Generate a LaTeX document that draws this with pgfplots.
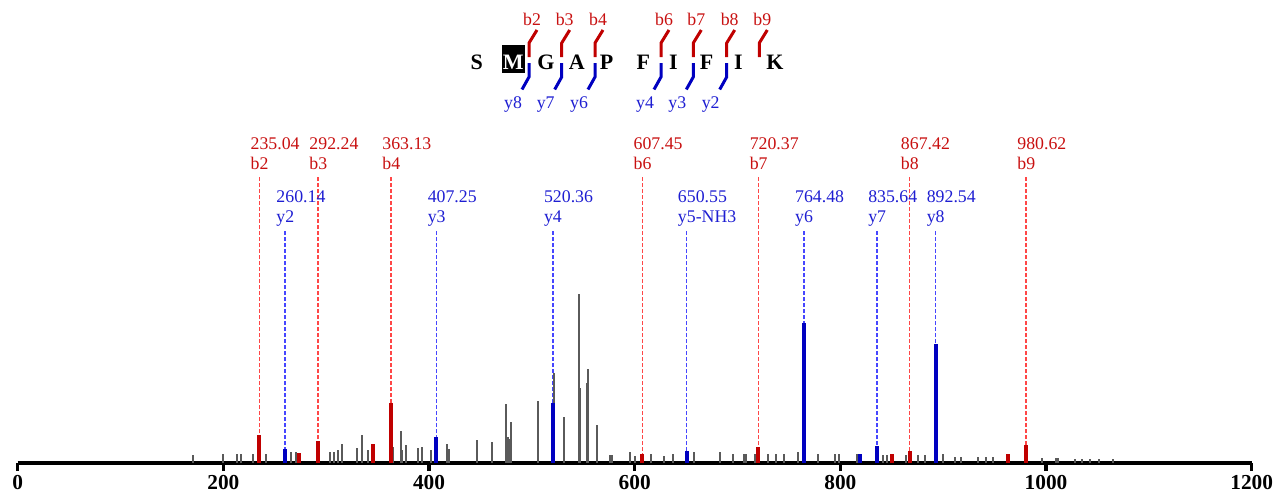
\documentclass[border=0pt]{standalone}
\usepackage{fontspec}
\setmainfont{Liberation Serif}
\usepackage{pgfplots}
\pgfplotsset{compat=1.18}
\definecolor{pgrey}{RGB}{90,90,90}
\definecolor{pred}{RGB}{192,0,0}
\definecolor{pblue}{RGB}{0,0,192}
\definecolor{tred}{RGB}{200,16,16}
\definecolor{tblue}{RGB}{30,30,210}
\definecolor{dred}{RGB}{255,70,70}
\definecolor{dblue}{RGB}{70,70,255}
\newcommand\lfont{\fontsize{13.35}{16}\selectfont}
\newcommand\redlab[2]{%
  \node[anchor=base west,inner sep=0pt,text=tred,xshift=-6.75pt,font=\lfont] at (axis cs:#1,313.7) {#1};
  \node[anchor=base west,inner sep=0pt,text=tred,xshift=-6.75pt,font=\lfont] at (axis cs:#1,293.7) {#2};}
\newcommand\bluelab[3]{%
  \node[anchor=base west,inner sep=0pt,text=tblue,xshift=-6.75pt,font=\lfont] at (axis cs:#1,260.7) {#2};
  \node[anchor=base west,inner sep=0pt,text=tblue,xshift=-6.75pt,font=\lfont] at (axis cs:#1,240.7) {#3};}
\begin{document}
\begin{tikzpicture}
\begin{axis}[
  at={(0,0)}, anchor=south west,
  scale only axis, width=925.5pt, height=347.25pt,
  xmin=0, xmax=1200, ymin=0, ymax=463,
  clip=false,
  axis x line*=bottom, axis y line=none,
  axis line style={line width=2.5pt, black},
  xtick={0,200,...,1200},
  ytick=\empty,
  tick align=outside,
  major tick length=6pt,
  xtick style={line width=2.5pt, black},
  xticklabel style={font=\fontsize{16}{19}\selectfont\bfseries},
  /pgf/number format/assume math mode=true,
  /pgf/number format/1000 sep={},
]
% dashed guide lines
\addplot[ycomb, dred, line width=1.15pt, dash pattern=on 3pt off 1.5pt, mark=none] coordinates {
(235.04,287) (292.24,287) (363.13,287) (607.45,287) (720.37,287) (867.42,287) (980.62,287)};
\addplot[ycomb, dblue, line width=1.15pt, dash pattern=on 3pt off 1.5pt, mark=none] coordinates {
(260.14,233) (407.25,233) (520.36,233) (650.55,233) (764.48,233) (835.64,233) (892.54,233)};
% unassigned peaks
\addplot[ycomb, pgrey, line width=1.5pt, mark=none] coordinates {
(170.8,7.7) (200,9) (213,9) (217,9) (228.5,9) (241.5,9) (265.8,11.3) (270.3,11.3)
(303.7,11.3) (308,11.3) (311.8,13) (315,19) (329.6,14.7) (334.5,28) (340.4,13)
(364.6,16.3) (372.5,32.3) (374,13) (377.6,17.7) (389,14.7) (393.5,16) (401.6,13)
(417.2,19) (419,14) (446.4,22.7) (461,20.7) (474.9,59) (476.5,26) (478,24.3) (480,40.7)
(505.7,62) (521.5,89.7) (531.3,46) (545.6,169) (547.2,75.3) (553.3,80.3) (554.9,93.7)
(563,37.7) (575.5,7.7) (577.5,7.7) (595.4,10.7) (600.3,7.5) (615.6,8.7) (628.5,7.3)
(637,8.7) (657.7,10.7) (683,10.7) (696,8.7) (706,9) (708.5,9) (717,9.3) (729.4,8.7)
(737,8.7) (745,9.3) (759,10.7) (778.6,8.7) (794.8,8.7) (799,8.7) (816.5,8.7)
(841.8,7.7) (845,7.7) (863.5,7.7) (869,7.7) (875.8,7.7) (882.3,7.7) (899.5,8.7)
(911.5,6.5) (917.4,6.3) (934.2,5.7) (941.7,5.7) (948.8,5.7) (995.8,4.7) (1009.5,4.7)
(1011.5,4.7) (1028,4) (1034.7,4) (1042.8,4) (1051.8,4) (1064.8,4)};
% b ions
\addplot[ycomb, pred, line width=3pt, mark=none] coordinates {
(235.04,28) (273.6,10) (292.24,22) (345.2,18.7) (363.13,59.7) (607.45,8.7)
(720.37,16.3) (849.9,8.7) (867.42,12) (963.3,8.7) (980.62,18)};
% y ions
\addplot[ycomb, pblue, line width=3pt, mark=none] coordinates {
(260.14,13.7) (407.25,26.3) (520.36,59.7) (650.55,12) (764.48,140.3)
(819,8.7) (835.64,16.7) (892.54,119)};
\redlab{235.04}{b2}
\redlab{292.24}{b3}
\redlab{363.13}{b4}
\redlab{607.45}{b6}
\redlab{720.37}{b7}
\redlab{867.42}{b8}
\redlab{980.62}{b9}
\bluelab{260.14}{260.14}{y2}
\bluelab{407.25}{407.25}{y3}
\bluelab{520.36}{520.36}{y4}
\bluelab{650.55}{650.55}{y5-NH3}
\bluelab{764.48}{764.48}{y6}
\bluelab{835.64}{835.64}{y7}
\bluelab{892.54}{892.54}{y8}
\end{axis}
% peptide sequence with fragment markers
\begin{scope}[x=0.75pt,y=-0.75pt,shift={(-13.275pt,347.25pt)}]
\fill[black] (501.7,45) rectangle (525,73.3);
\foreach \xx/\ll in {476.7/S,546/G,576.7/A,606.7/P,643.3/F,673.3/I,706.7/F,738.3/I,775/K}{
  \node[anchor=base,inner sep=0pt,font=\fontsize{16.5}{20}\selectfont\bfseries] at (\xx,70) {\ll};
}
\node[anchor=base,inner sep=0pt,text=white,font=\fontsize{16.5}{20}\selectfont\bfseries] at (513.3,70) {M};
\foreach \xx/\ll in {529/b2,561.7/b3,595/b4,661/b6,693.3/b7,726.7/b8,759.3/b9}{
  \draw[pred,line width=2.25pt] (\xx,57) -- (\xx,43) -- (\xx+8,30);
  \node[anchor=base,inner sep=0pt,text=tred,font=\lfont] at (\xx+3,26) {\ll};
}
\foreach \xx/\ll in {529/y8,561.7/y7,595/y6,661/y4,693.3/y3,726.7/y2}{
  \draw[pblue,line width=2.25pt] (\xx,63) -- (\xx,77) -- (\xx-7,89.5);
  \node[anchor=base,inner sep=0pt,text=tblue,font=\lfont] at (\xx-16,108) {\ll};
}
\pgfresetboundingbox
\path[use as bounding box] (0,0) rectangle (1275,494);
\end{scope}
\end{tikzpicture}
\end{document}
